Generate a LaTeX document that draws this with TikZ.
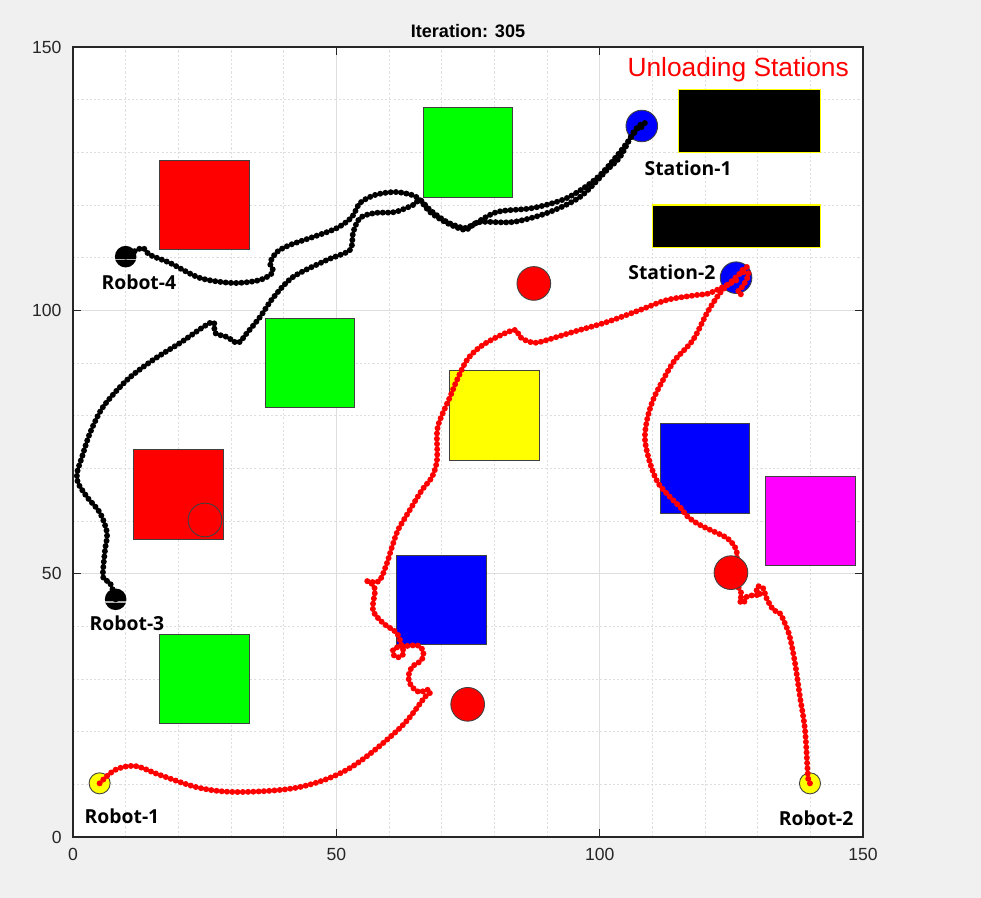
\documentclass[tikz,border=0pt]{standalone}
\usepackage{fontspec}
\setmainfont{Liberation Sans}
\newfontfamily\labfont{Open Sans}
\definecolor{figgray}{RGB}{240,240,240}
\definecolor{gridgray}{RGB}{222,222,222}
\definecolor{axgray}{RGB}{38,38,38}
\definecolor{mgreen}{RGB}{0,255,0}
\definecolor{mblue}{RGB}{0,0,255}
\definecolor{mred}{RGB}{255,0,0}
\definecolor{myellow}{RGB}{255,255,0}
\definecolor{mmagenta}{RGB}{255,0,255}
\begin{document}
\begin{tikzpicture}[x=0.105333cm,y=0.105333cm,
    obst/.style={draw=black!75,line width=0.5pt},
    dock/.style={fill=black,draw=myellow,line width=0.6pt},
    minorgrid/.style={gridgray,line width=0.5pt,dash pattern=on 1.2pt off 1.2pt},
    majorgrid/.style={gridgray,line width=0.6pt},
    trail/.style={line width=3.4pt,line cap=round,dash pattern=on 0pt off 3pt},
    ticklab/.style={font=\fontsize{10}{12}\selectfont,text=axgray},
    roblab/.style={font=\labfont\bfseries\fontsize{11}{13}\selectfont}]
  % figure and axes background
  \useasboundingbox (-13.861,-11.582) rectangle (172.405,158.924);
  \fill[figgray] (-13.861,-11.582) rectangle (172.405,158.924);
  \fill[white] (0,0) rectangle (150,150);
  % grid
  \foreach \v in {10,20,30,40,60,70,80,90,110,120,130,140}{
    \draw[minorgrid] (\v,0) -- (\v,150);
    \draw[minorgrid] (0,\v) -- (150,\v);
  }
  \foreach \v in {50,100}{
    \draw[majorgrid] (\v,0) -- (\v,150);
    \draw[majorgrid] (0,\v) -- (150,\v);
  }
  % static obstacles
  \filldraw[obst,fill=mred] (16.5,111.5) rectangle (33.5,128.5);
  \filldraw[obst,fill=mgreen] (66.5,121.5) rectangle (83.5,138.5);
  \filldraw[obst,fill=mgreen] (36.5,81.5) rectangle (53.5,98.5);
  \filldraw[obst,fill=myellow] (71.5,71.5) rectangle (88.5,88.5);
  \filldraw[obst,fill=mred] (11.5,56.5) rectangle (28.5,73.5);
  \filldraw[obst,fill=mblue] (61.5,36.5) rectangle (78.5,53.5);
  \filldraw[obst,fill=mgreen] (16.5,21.5) rectangle (33.5,38.5);
  \filldraw[obst,fill=mblue] (111.5,61.5) rectangle (128.5,78.5);
  \filldraw[obst,fill=mmagenta] (131.5,51.5) rectangle (148.5,68.5);
  % unloading stations
  \filldraw[dock] (115,130) rectangle (142,142);
  \filldraw[dock] (110,112) rectangle (142,120);
  \filldraw[obst,fill=mblue] (108,135) circle (3);
  \filldraw[obst,fill=mblue] (125.9,106.2) circle (3);
  \draw[obst] (25.06,60.19) circle (3.2);
  % robots
  \filldraw[obst,fill=myellow] (5.06,10.19) circle (2);
  \filldraw[obst,fill=myellow] (139.93,10.19) circle (2);
  \fill (8.1,45.13) circle (2.05);
  \draw[gray!60,line width=0.8pt] (6.1,44.6) -- (10.1,44.6);
  \fill (10,110.19) circle (2.05);
  \draw[gray!60,line width=0.8pt] (8,109.66) -- (12,109.66);
  % trails
  \draw[trail,mred] plot[smooth,tension=0.55] coordinates {
    (5.06,10.19) (7.97,12.72) (11.77,13.48) (16.52,11.77) (24.11,9.30)
    (31.71,8.54) (43.10,9.49) (52.59,13.10) (62.09,20.70) (66.83,26.58)
    (67.9,27.4) (67.2,28.0) (65.8,27.5) (64.3,28.6) (63.7,30.4) (64.4,32.3)
    (66.2,33.6) (66.5,35.4) (65.4,36.4) (64.0,36.3) (62.5,36.2) (61.0,35.8)
    (60.7,35.0) (61.2,34.2) (62.2,34.2) (62.8,35.0) (62.4,36.2) (61.5,38.7)
    (58.86,40.63) (56.96,43.10) (57.34,46.90) (56.5,48.3) (55.4,48.7)
    (56.8,48.4) (58.29,48.80) (59.62,52.02) (60.57,55.06) (61.71,58.29)
    (63.61,61.52) (66.27,65.89) (68.16,68.35) (69.11,71.58) (69.11,76.71)
    (69.68,79.18) (71.58,83.54) (72.91,86.77) (74.81,90.57) (77.28,93.04)
    (80.51,94.94) (83.92,96.27) (84.87,94.94) (86.77,93.99) (88.67,93.99)
    (94.94,95.89) (101.39,97.78) (107.66,100.06) (112.78,101.96)
    (118.48,102.91) (120.95,103.29) (126.07,105.76)};
  \draw[trail,mred] plot[smooth,tension=0.55] coordinates {
    (139.93,10.19) (139.56,11.39) (138.99,20.32) (138.04,26.58)
    (137.09,33.04) (136.1,38.0) (135.2,40.5) (134.2,42.5) (133.0,43.1)
    (131.7,45.3) (131.0,47.3) (130.0,47.6) (129.8,46.6) (130.6,46.0)
    (129.2,45.9) (127.9,45.6) (127.3,44.4) (126.5,44.9) (127.0,45.9)
    (126.3,47.5) (125.5,49.0) (126.07,53.16) (125.69,55.06) (124.18,56.77)
    (122.28,57.72) (119.05,59.24) (116.77,60.76) (115.25,62.66)
    (113.35,64.56) (111.08,67.22) (109.56,71.01) (108.61,75.38)
    (108.99,79.18) (110.13,82.97) (112.03,86.77) (114.30,90.57)
    (117.72,94.37) (120.38,99.49) (122.85,103.29) (125.32,105.76)
    (127.97,108.23) (126.8,107.3) (128.3,107.0) (127.2,104.6) (126.2,103.4)
    (127.6,102.8)};
  \draw[trail] plot[smooth,tension=0.5] coordinates {
    (8.1,45.13) (7.03,48.23) (5.70,49.37) (6.08,54.49) (6.46,57.72)
    (5.13,61.52) (2.66,64.56) (0.95,67.22) (0.76,69.11) (1.71,72.15)
    (3.23,76.71) (5.70,81.65) (10.25,86.77) (15.19,90.57) (20.32,93.80)
    (26.39,97.78) (26.96,95.70) (29.24,94.94) (31.33,93.80) (33.04,95.70)
    (35.51,98.73) (37.97,102.34) (41.77,106.33) (48.23,109.56)
    (52.59,111.46) (53.16,114.68) (54.49,117.53) (57.34,118.48)
    (61.14,118.67) (64.56,120.00) (65.89,120.95) (67.78,119.05)
    (71.01,116.77) (74.43,115.63) (77.28,116.77) (83.54,116.77)
    (90.00,118.48) (96.27,121.52) (101.39,126.65) (103.86,129.11)
    (106.33,133.67) (107.66,135.19) (108.6,135.6) (107.6,134.4)};
  \draw[trail] plot[smooth,tension=0.5] coordinates {
    (10,110.19) (13.10,111.84) (14.62,110.51) (18.42,108.99) (24.11,106.14)
    (30.38,105.19) (35.51,105.76) (37.97,107.28) (37.41,108.99)
    (38.73,111.08) (41.20,112.41) (45.57,113.92) (50.13,115.63)
    (52.97,117.72) (54.49,120.38) (57.34,121.90) (61.14,122.47)
    (64.37,121.90) (65.89,120.95) (67.78,118.67) (71.01,116.58)
    (74.43,115.25) (75.95,116.20) (80.51,118.67) (87.34,119.43)
    (93.80,121.33) (99.49,125.13) (103.86,130.06) (107.66,135.19)};
  % moving obstacles
  \filldraw[obst,fill=mred] (87.5,105.1) circle (3.2);
  \filldraw[obst,fill=mred] (74.94,25.19) circle (3.2);
  \filldraw[obst,fill=mred] (124.93,50.19) circle (3.2);
  % axes box and ticks
  \draw[axgray,line width=0.6pt] (0,0) rectangle (150,150);
  \foreach \v in {50,100}{
    \draw[axgray,line width=0.6pt] (\v,0) -- (\v,1.5);
    \draw[axgray,line width=0.6pt] (\v,150) -- (\v,148.5);
    \draw[axgray,line width=0.6pt] (0,\v) -- (1.5,\v);
    \draw[axgray,line width=0.6pt] (150,\v) -- (148.5,\v);
  }
  \foreach \v in {0,50,100,150}{
    \node[ticklab] (xt\v) at (\v,-3.4) {\v};
    \node[ticklab,anchor=east] (yt\v) at (-1.0,\v) {\v};
  }
  % labels
  \node[font=\bfseries\fontsize{10.3}{12}\selectfont] (title) at (75,153.1) {Iteration: 305};
  \node[text=mred,font=\fontsize{15}{18}\selectfont] (unload) at (126.3,145.6) {Unloading Stations};
  \node[roblab] (st1) at (116.8,127.0) {Station-1};
  \node[roblab] (st2) at (113.7,107.3) {Station-2};
  \node[roblab] (r1) at (9.3,4.0) {Robot-1};
  \node[roblab] (r2) at (141.1,3.6) {Robot-2};
  \node[roblab] (r3) at (10.25,40.6) {Robot-3};
  \node[roblab] (r4) at (12.5,105.4) {Robot-4};
\end{tikzpicture}
\end{document}
